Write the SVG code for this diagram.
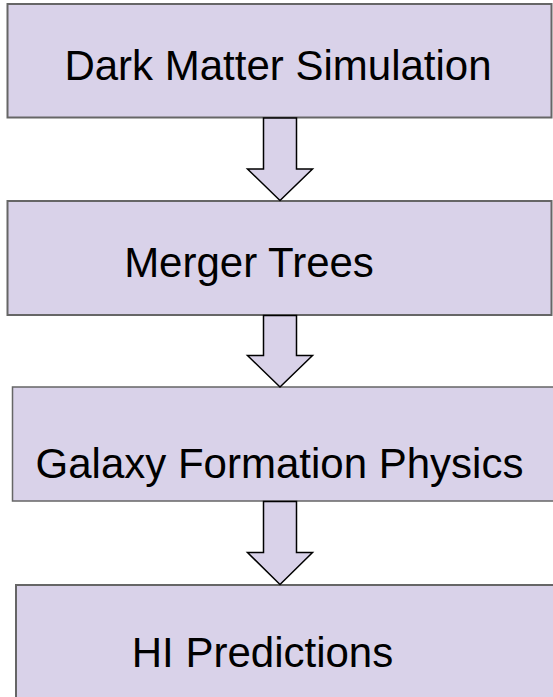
<svg xmlns="http://www.w3.org/2000/svg" width="553" height="697" viewBox="0 0 553 697">
  <style>
    .box { fill: #d9d2e9; stroke: #666666; stroke-width: 2; }
    .thin { stroke-width: 1.5; }
    .label { font-family: "Liberation Sans", Arial, sans-serif; font-size: 42px; fill: #000000; text-anchor: middle; }
    .arrow { fill: #d9d2e9; stroke: #000000; stroke-width: 1.5; stroke-linejoin: miter; }
  </style>
  <rect width="553" height="697" fill="#ffffff"/>

  <g id="node-dark-matter">
    <rect class="box" x="7.5" y="4" width="544" height="113.5"/>
    <text class="label" x="278" y="80">Dark Matter Simulation</text>
  </g>

  <g id="node-merger-trees">
    <rect class="box" x="7.5" y="201" width="544" height="114"/>
    <text class="label" x="249" y="277">Merger Trees</text>
  </g>

  <g id="node-galaxy-formation">
    <rect class="box thin" x="12.5" y="387" width="545" height="114"/>
    <text class="label" x="279.5" y="478">Galaxy Formation Physics</text>
  </g>

  <g id="node-hi-predictions">
    <rect class="box" x="16" y="585" width="545" height="120"/>
    <text class="label" x="262.5" y="667">HI Predictions</text>
  </g>

  <g id="connectors">
    <path class="arrow" d="M263.5,118 H296.5 V169 H312.5 L280,200.5 L247.5,169 H263.5 Z"/>
    <path class="arrow" d="M263.5,315.5 H296.5 V355.5 H312.5 L280,387 L247.5,355.5 H263.5 Z"/>
    <path class="arrow" d="M263.5,501.5 H296.5 V552.5 H312.5 L280,584.5 L247.5,552.5 H263.5 Z"/>
  </g>
</svg>
